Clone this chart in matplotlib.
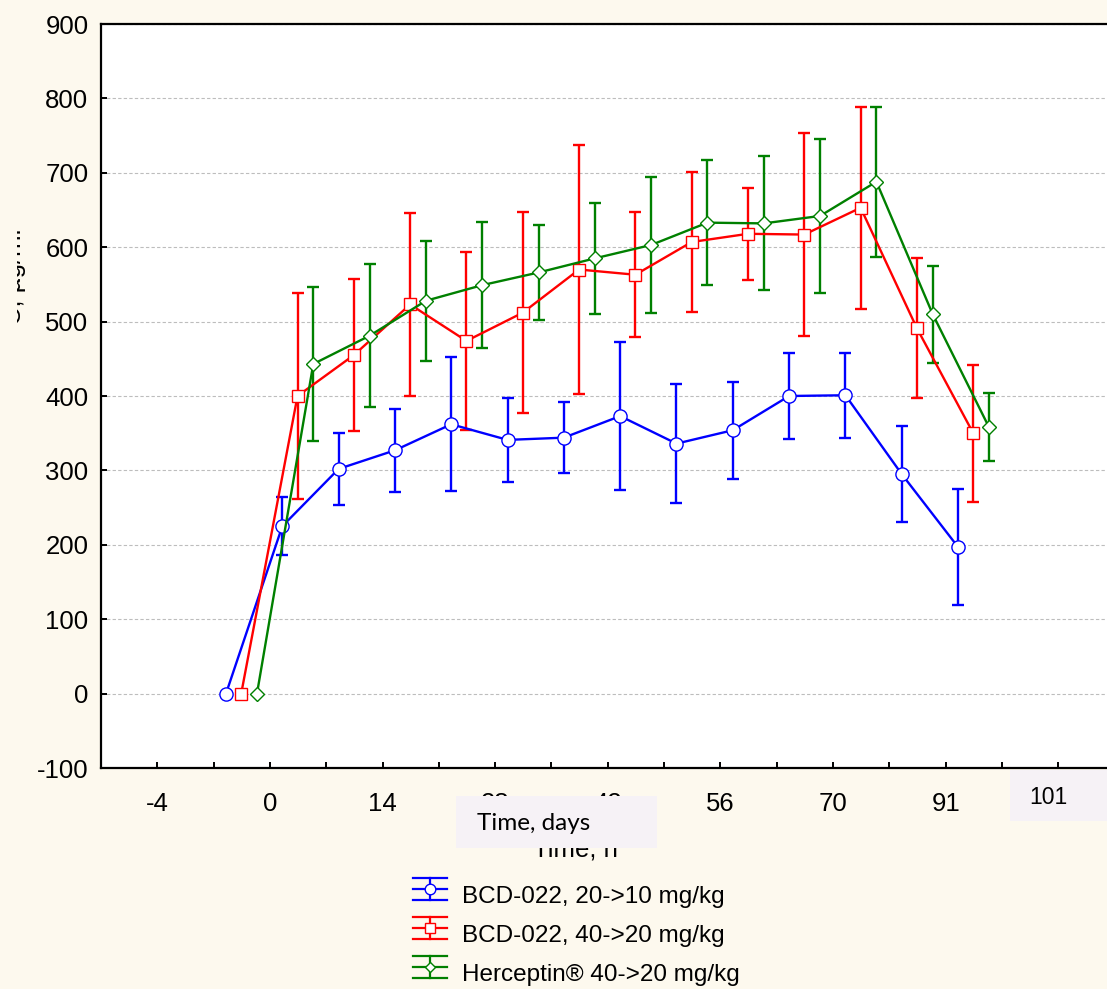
import numpy as np
import matplotlib
matplotlib.use("Agg")
import matplotlib.pyplot as plt
from matplotlib.lines import Line2D
from matplotlib.patches import Rectangle
from matplotlib.legend_handler import HandlerBase

plt.rcParams['font.family'] = ['Liberation Sans', 'DejaVu Sans']
plt.rcParams['axes.unicode_minus'] = False

# --- data -------------------------------------------------------------
visit = np.arange(14)                      # sampling visit index
tick_pos = np.arange(1, 18)
tick_labels = ['-4', '', '0', '', '14', '', '28', '', '42', '', '56', '',
               '70', '', '91', '', '']

series_names = ['BCD-022, 20->10 mg/kg',
                'BCD-022, 40->20 mg/kg',
                'Herceptin\u00ae 40->20 mg/kg']

bcd10_mean = [0, 225, 302, 327, 362, 341, 344, 373, 336, 354, 400, 401, 295, 197]
bcd10_sd = [0, 39, 48, 56, 90, 56, 48, 100, 80, 65, 58, 57, 65, 78]

bcd20_mean = [0, 400, 455, 523, 474, 512, 570, 563, 607, 618, 617, 653, 491, 350]
bcd20_sd = [0, 138, 102, 123, 120, 135, 167, 84, 94, 62, 136, 136, 94, 92]

herc_mean = [0, 443, 481, 528, 549, 566, 585, 603, 633, 632, 642, 688, 510, 358]
herc_sd = [0, 103, 96, 81, 85, 64, 75, 92, 84, 90, 104, 101, 65, 46]

# --- styling ------------------------------------------------------------
bg = '#fdf9ee'
box_col = '#f6f2f6'
colors = ['#0000ff', '#ff0000', '#008000']
markers = ['o', 's', 'D']
msizes = [9.5, 9, 7]
offsets = [-0.27, 0.0, 0.28]
base = 2.49
fs = 18.5
legend_fs = 17.5

W, H = 1107, 989
fig = plt.figure(figsize=(W / 100, H / 100), dpi=100, facecolor=bg)
ax = fig.add_axes([101 / W, (H - 768) / H, (W - 101) / W, (768 - 24) / H])
ax.set_facecolor('white')

means = [bcd10_mean, bcd20_mean, herc_mean]
sds = [bcd10_sd, bcd20_sd, herc_sd]
for k in range(3):
    x = base + offsets[k] + visit
    m = np.array(means[k], dtype=float)
    s = np.array(sds[k], dtype=float)
    ax.errorbar(x[1:], m[1:], yerr=s[1:], fmt='none', ecolor=colors[k],
                elinewidth=1.7, capsize=4.5, capthick=1.7, zorder=3)
    ax.plot(x, m, color=colors[k], lw=1.7, marker=markers[k], ms=msizes[k],
            mfc='white', mec=colors[k], mew=1.0, zorder=4)

ax.set_xlim(0, (W - 101) / 56.31)
ax.set_ylim(-100, 900)
ax.set_yticks(np.arange(-100, 901, 100))
ax.set_xticks(tick_pos)
ax.set_xticklabels(tick_labels)
ax.yaxis.grid(True, color='#bdbdbd', lw=0.8, ls=(0, (3, 2)))
ax.set_axisbelow(True)

for side in ['left', 'bottom', 'top']:
    ax.spines[side].set_linewidth(1.6)
    ax.spines[side].set_color('black')
ax.spines['right'].set_visible(False)
ax.tick_params(direction='in', length=4, width=1.4, labelsize=fs, colors='black')
ax.tick_params(axis='x', pad=17)
ax.tick_params(axis='y', pad=9)

ax.set_xlabel('Time, h', fontsize=fs)
ax.xaxis.set_label_coords((575 - 101) / (W - 101), (768 - 837) / (768 - 24))

# clipped y-axis caption at the very left edge
fig.text(14 / W, 1 - 277 / H, 'C, \u00b5g/ml', rotation=90, ha='center',
         va='center', fontsize=fs)
fig.add_artist(Rectangle((0, 1 - 360 / H), 17 / W, 180 / H,
                         transform=fig.transFigure, facecolor=bg,
                         edgecolor='none', zorder=5))

# overlay boxes
fig.add_artist(Rectangle((456 / W, 1 - 848 / H), (657 - 456) / W, 52 / H,
                         transform=fig.transFigure, facecolor=box_col,
                         edgecolor='none', zorder=5))
fig.text(534 / W, 1 - 823 / H, 'Time, days', family=['Lato', 'DejaVu Sans'],
         fontsize=17.5, ha='center', va='center', zorder=6)
fig.add_artist(Rectangle((1010 / W, 1 - 821 / H), (W - 1010) / W, 51 / H,
                         transform=fig.transFigure, facecolor=box_col,
                         edgecolor='none', zorder=5))
fig.text(1048 / W, 1 - 797 / H, '101', fontsize=16.5, ha='center',
         va='center', zorder=6)


# legend: line with marker and full-width error whiskers
class WhiskerHandler(HandlerBase):
    def create_artists(self, legend, orig_handle, xdescent, ydescent,
                       width, height, fontsize, trans):
        c = orig_handle.get_color()
        cy = height / 2 - ydescent + 4
        x0, x1 = -xdescent, width - xdescent
        cx = (x0 + x1) / 2
        h = 8.0
        arts = []
        for yy in (cy - h, cy, cy + h):
            arts.append(Line2D([x0, x1], [yy, yy], color=c, lw=1.6))
        arts.append(Line2D([cx, cx], [cy - h, cy + h], color=c, lw=1.6))
        arts.append(Line2D([cx], [cy], marker=orig_handle.get_marker(),
                           ms=orig_handle.get_markersize() * 0.8,
                           mfc='white', mec=c, mew=1.0, ls='none'))
        for a in arts:
            a.set_transform(trans)
        return arts


proxies = [Line2D([], [], color=colors[k], marker=markers[k], ms=msizes[k])
           for k in range(3)]
fig.legend(proxies, series_names, handler_map={Line2D: WhiskerHandler()},
           loc='upper left', bbox_to_anchor=(413 / W, 1 - 886 / H),
           frameon=False, fontsize=legend_fs, handlelength=1.38,
           handletextpad=0.65, labelspacing=0.7, borderpad=0,
           borderaxespad=0)

fig.savefig('out.png', dpi=100, facecolor=bg)
